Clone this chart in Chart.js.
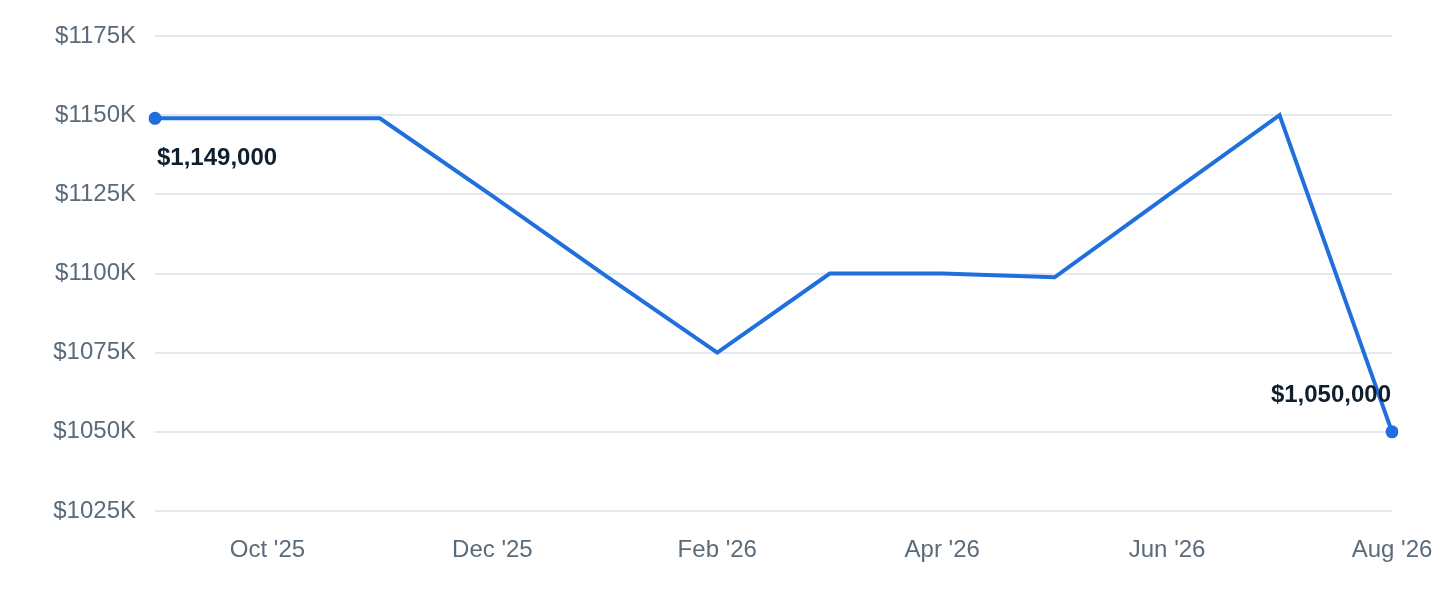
<!DOCTYPE html>
<html>
<head>
<meta charset="utf-8">
<script src="https://cdn.jsdelivr.net/npm/chart.js@4/dist/chart.umd.min.js"></script>
<style>
  html, body { margin:0; padding:0; background:#fff; }
  #wrap { width:1440px; height:600px; position:relative; }
</style>
</head>
<body>
<div id="wrap"><canvas id="priceChart"></canvas></div>
<script>
const months = ["Sep '25","Oct '25","Nov '25","Dec '25","Jan '26","Feb '26","Mar '26","Apr '26","May '26","Jun '26","Jul '26","Aug '26"];
const prices = [1149000,1149000,1149000,1124500,1099500,1075000,1100000,1100000,1098800,1124500,1150000,1050000];
const yTicks = [1025000,1050000,1075000,1100000,1125000,1150000,1175000];

const blue = "#1f6fdc";
const fontFam = "'Liberation Sans', Arial, sans-serif";

// labels for first and last point
const endLabels = {
  id:"endLabels",
  afterDatasetsDraw(chart){
    const ctx = chart.ctx;
    const pts = chart.getDatasetMeta(0).data;
    const first = pts[0], last = pts[pts.length-1];
    const fmt = v => "$" + v.toLocaleString("en-US");
    ctx.save();
    ctx.font = "bold 24px " + fontFam;
    ctx.fillStyle = "#0f1f2e";
    ctx.textBaseline = "middle";
    ctx.textAlign = "left";
    ctx.fillText(fmt(prices[0]), first.x + 2, first.y + 40);
    ctx.textAlign = "right";
    ctx.fillText(fmt(prices[prices.length-1]), last.x - 1, last.y - 36);
    ctx.restore();
  }
};

window.onload = function(){
  const ctx = document.getElementById("priceChart");
  new Chart(ctx,{
    type:"line",
    data:{
      labels:months,
      datasets:[{
        data:prices,
        borderColor:blue,
        backgroundColor:blue,
        borderWidth:4,
        tension:0,
        pointRadius:prices.map((v,i) => (i===0 || i===prices.length-1) ? 6.5 : 0),
        pointBorderWidth:0,
        pointHoverRadius:0
      }]
    },
    options:{
      responsive:true,
      maintainAspectRatio:false,
      animation:false,
      layout:{ padding:{ top:36, right:48, left:0, bottom:0 } },
      plugins:{ legend:{display:false}, tooltip:{enabled:false} },
      scales:{
        x:{
          offset:false,
          grid:{ display:false, drawTicks:false },
          border:{ display:false },
          ticks:{
            autoSkip:false,
            maxRotation:0,
            padding:25,
            color:"#5b6b7a",
            font:{ family:fontFam, size:24 },
            callback:(v,i) => i % 2 === 1 ? months[i] : ""
          },
          afterFit: s => { s.height = 89; s.paddingLeft = 0; s.paddingRight = 0; }
        },
        y:{
          min:yTicks[0],
          max:yTicks[yTicks.length-1],
          grid:{ color:"#e4e7ed", lineWidth:2, drawTicks:false },
          border:{ display:false },
          afterBuildTicks: s => { s.ticks = yTicks.map(v => ({value:v})); },
          ticks:{
            padding:19,
            color:"#5b6b7a",
            font:{ family:fontFam, size:24 },
            callback: v => "$" + (v/1000) + "K"
          },
          afterFit: s => { s.width = 155; s.paddingTop = 0; s.paddingBottom = 0; }
        }
      }
    },
    plugins:[endLabels]
  });
};
</script>
</body>
</html>
